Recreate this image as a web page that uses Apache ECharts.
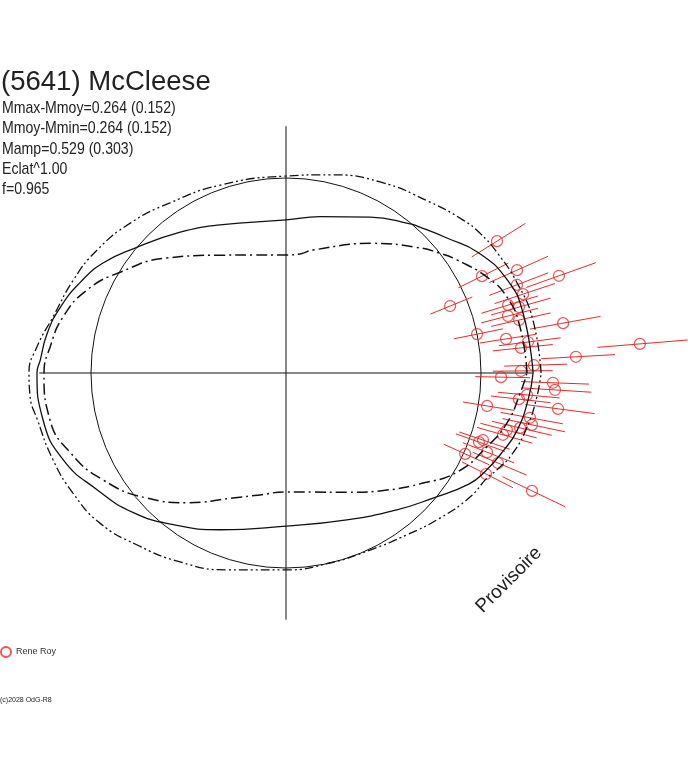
<!DOCTYPE html>
<html>
<head>
<meta charset="utf-8">
<script src="https://cdn.jsdelivr.net/npm/echarts@6/dist/echarts.min.js"></script>
<style>
html,body{margin:0;padding:0;background:#fff;}
#chart{width:688px;height:768px;}
</style>
</head>
<body>
<div id="chart"></div>
<script>
// ---- data (radius in units of the reference circle, angle in degrees, counter-clockwise from +x) ----
var titleText = '(5641) McCleese';
var infoLines = ['Mmax-Mmoy=0.264 (0.152)', 'Mmoy-Mmin=0.264 (0.152)', 'Mamp=0.529 (0.303)', 'Eclat^1.00', 'f=0.965'];
var observerName = 'Rene Roy';
var stampText = 'Provisoire';
var copyrightText = '(c)2028 OdG-R8';

var solidAngle = [0,14.2,22.8,32,40,47.5,50.2,61.7,77.7,90,114,126.9,140.4,149,156.4,163.7,170.5,177,180,190.9,201.3,211.8,222.3,233.4,247.2,270,292.5,309,319.6,328.7,333.5,340.5,346,353.6,360];
var solidR = [1.267,1.254,1.231,1.164,1.077,1.015,0.995,0.908,0.821,0.785,0.831,0.903,1.005,1.095,1.154,1.205,1.241,1.262,1.277,1.269,1.226,1.138,1.062,0.969,0.872,0.785,0.815,0.903,0.990,1.097,1.138,1.185,1.221,1.249,1.267];

var innerAngle = [0,11.1,19,25.5,33.5,37.9,44,56.2,77.6,83.3,91.5,105.6,119.2,136,148.7,157.4,165.9,173.7,180,191.3,200.3,210.3,222,232.7,247,258,270,282.8,297,310.8,321.2,330,339.8,347.3,355,360];
var innerR = [1.236,1.223,1.198,1.142,1.051,1.000,0.928,0.800,0.646,0.615,0.605,0.628,0.692,0.849,0.995,1.106,1.179,1.217,1.241,1.234,1.179,1.087,0.959,0.836,0.697,0.639,0.610,0.626,0.687,0.793,0.901,1.015,1.097,1.162,1.205,1.236];

var outerAngle = [0,12.1,21.3,29.8,35.8,40.8,49.9,63.8,77.5,90,109.3,124.3,136,147,156.4,166.5,174,180,184.9,190.7,200.5,209.4,218.9,229,240.7,253.3,270,283,295.4,306.8,316.7,326,332.4,335.3,340.6,347.4,354.5,360];
var outerR = [1.308,1.295,1.272,1.246,1.226,1.200,1.146,1.092,1.041,1.010,1.021,1.056,1.108,1.156,1.190,1.229,1.284,1.318,1.318,1.297,1.275,1.254,1.226,1.167,1.111,1.054,1.010,1.000,1.005,1.036,1.085,1.138,1.163,1.190,1.234,1.267,1.292,1.308];

var ptAngle = [32.0,26.3,24.0,19.6,20.9,18.4,22.2,17.0,15.8,14.4,12.8,10.2,11.5,8.8,7.3,6.1,4.7,3.2,1.8,0.5,358.9,357.9,356.4,354.8,353.6,350.7,352.5,349.6,348.1,346.8,345.5,344.1,341.2,340.3,338.5,335.7,337.0,333.2,334.4];
var ptR = [1.276,1.121,1.297,1.486,1.268,1.281,0.909,1.191,1.242,1.175,1.226,1.444,1.000,1.142,1.251,1.212,1.821,1.489,1.272,1.205,1.103,1.370,1.382,1.241,1.202,1.045,1.407,1.272,1.289,1.233,1.170,1.157,1.067,1.051,1.108,1.008,1.181,1.149,1.399];

// ---- layout / style ----
var CX = 286, CY = 373, UNIT = 195, RMAX = 2.2, AXIS_LEN = 1.265;
var SEG_IN = 0.88, SEG_OUT = 1.135;
var RED = '#f02828';

function pairs(rs, as) { return rs.map(function (r, i) { return [r, as[i]]; }); }

var chart = echarts.init(document.getElementById('chart'), null, {renderer: 'canvas'});
var FONT = "'Liberation Sans', Arial, sans-serif";

var graphics = [
  {type: 'text', left: 1, top: 69, scaleX: 1.02, style: {text: titleText, font: '27px ' + FONT, fill: '#222'}}
];
infoLines.forEach(function (t, i) {
  graphics.push({type: 'text', left: 2, top: 100 + i * 20.3, scaleX: 0.83,
    style: {text: t, font: '17px ' + FONT, fill: '#222'}});
});
graphics.push({type: 'text', x: 509, y: 580, rotation: Math.PI / 4,
  style: {text: stampText, font: '19px ' + FONT, fill: '#222', align: 'center', verticalAlign: 'middle'}});
graphics.push({type: 'text', left: 0, top: 697, style: {text: copyrightText, font: '7px ' + FONT, fill: '#222'}});

var option = {
  backgroundColor: '#fff',
  animation: false,
  graphic: graphics,
  legend: {
    data: [observerName], left: 0, top: 646, itemWidth: 10, itemHeight: 10, padding: 0, itemGap: 4,
    textStyle: {fontSize: 9, color: '#333', fontFamily: FONT}
  },
  polar: [
    {center: [CX, CY], radius: AXIS_LEN * UNIT},
    {center: [CX, CY], radius: UNIT},
    {center: [CX, CY], radius: RMAX * UNIT}
  ],
  angleAxis: [
    {polarIndex: 0, type: 'value', min: 0, max: 360, interval: 90, startAngle: 0, clockwise: false,
      axisLine: {show: false}, axisTick: {show: false}, axisLabel: {show: false},
      splitLine: {show: true, lineStyle: {color: '#111', width: 1}}, splitArea: {show: false}},
    {polarIndex: 1, type: 'value', min: 0, max: 360, startAngle: 0, clockwise: false,
      axisLine: {show: true, lineStyle: {color: '#111', width: 1}}, axisTick: {show: false}, axisLabel: {show: false},
      splitLine: {show: false}, splitArea: {show: false}},
    {polarIndex: 2, type: 'value', min: 0, max: 360, startAngle: 0, clockwise: false, show: false}
  ],
  radiusAxis: [
    {polarIndex: 0, type: 'value', min: 0, max: 1, show: false},
    {polarIndex: 1, type: 'value', min: 0, max: 1, show: false},
    {polarIndex: 2, type: 'value', min: 0, max: RMAX, show: false}
  ],
  series: [
    {type: 'line', coordinateSystem: 'polar', polarIndex: 2, data: pairs(outerR, outerAngle), smooth: 0.5,
      showSymbol: false, silent: true, lineStyle: {color: '#111', width: 1.3, type: [9, 3, 2, 3, 2, 3]}},
    {type: 'line', coordinateSystem: 'polar', polarIndex: 2, data: pairs(solidR, solidAngle), smooth: 0.5,
      showSymbol: false, silent: true, lineStyle: {color: '#111', width: 1.3, type: 'solid'}},
    {type: 'line', coordinateSystem: 'polar', polarIndex: 2, data: pairs(innerR, innerAngle), smooth: 0.5,
      showSymbol: false, silent: true, lineStyle: {color: '#111', width: 1.5, type: [11, 4, 2, 4]}},
    {type: 'custom', coordinateSystem: 'polar', polarIndex: 2, data: pairs(ptR, ptAngle), silent: true,
      renderItem: function (params, api) {
        var r = api.value(0), a = api.value(1);
        var p1 = api.coord([r * SEG_IN, a]);
        var p2 = api.coord([r * SEG_OUT, a]);
        return {type: 'line', shape: {x1: p1[0], y1: p1[1], x2: p2[0], y2: p2[1]},
          style: {stroke: RED, lineWidth: 1}};
      }},
    {name: observerName, type: 'scatter', coordinateSystem: 'polar', polarIndex: 2, data: pairs(ptR, ptAngle),
      symbol: 'circle', symbolSize: 11,
      itemStyle: {color: 'rgba(255,255,255,0)', borderColor: RED, borderWidth: 1.2}}
  ]
};
chart.setOption(option);
</script>
</body>
</html>
